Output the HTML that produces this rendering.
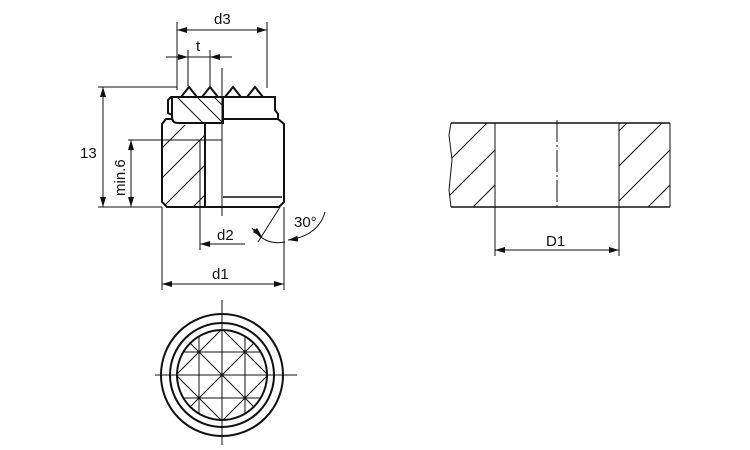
<!DOCTYPE html>
<html><head><style>
html,body{margin:0;padding:0;background:#fff;}
svg{display:block;}
text{font-family:"Liberation Sans",sans-serif;fill:#111;}
</style></head><body>
<svg width="750" height="450" viewBox="0 0 750 450" xmlns="http://www.w3.org/2000/svg">
<defs>
<marker id="a" markerWidth="10" markerHeight="6" refX="10" refY="3" orient="auto-start-reverse" markerUnits="userSpaceOnUse">
<path d="M0,0 L10,3 L0,6 Z" fill="#111"/></marker>
<clipPath id="cl"><path d="M168,125 L205,125 L205,207 L167,207 L162,202 L162,124 Z"/></clipPath>
<clipPath id="ct"><path d="M172,97 L223,97 L223,123 L178,123 Q172,123 172,117 Z"/></clipPath>
<clipPath id="cc"><circle cx="222" cy="375" r="45"/></clipPath>
<clipPath id="rl"><path d="M451,123 L495,123 L495,207 L451,207 L449,190 L452,160 L449,135 Z"/></clipPath>
<clipPath id="rr"><rect x="619" y="123" width="51" height="84"/></clipPath>
</defs>
<g fill="none" stroke="#111" stroke-width="1">
<!-- d3 -->
<line x1="177" y1="22" x2="177" y2="90"/><line x1="267" y1="22" x2="267" y2="88"/>
<line x1="177" y1="30" x2="267" y2="30" marker-start="url(#a)" marker-end="url(#a)"/>
<!-- t -->
<line x1="188" y1="50" x2="188" y2="86"/><line x1="210" y1="50" x2="210" y2="86"/>
<line x1="166" y1="57" x2="188" y2="57" marker-end="url(#a)"/>
<line x1="232" y1="57" x2="210" y2="57" marker-end="url(#a)"/>
<line x1="188" y1="57" x2="210" y2="57"/>
<!-- centerline -->
<line x1="222" y1="68" x2="222" y2="216"/>
<!-- 13 -->
<line x1="98" y1="87" x2="177" y2="87"/><line x1="98" y1="207" x2="162" y2="207"/>
<line x1="103" y1="87" x2="103" y2="207" marker-start="url(#a)" marker-end="url(#a)"/>
<!-- min.6 -->
<line x1="128" y1="140" x2="222" y2="140"/>
<line x1="131" y1="140" x2="131" y2="207" marker-start="url(#a)" marker-end="url(#a)"/>
<!-- d2 -->
<line x1="200" y1="207" x2="200" y2="250"/>
<line x1="245" y1="244" x2="200" y2="244" marker-end="url(#a)"/>
<!-- d1 -->
<line x1="162" y1="207" x2="162" y2="290"/><line x1="284" y1="207" x2="284" y2="290"/>
<line x1="162" y1="284" x2="284" y2="284" marker-start="url(#a)" marker-end="url(#a)"/>
<!-- 30 deg -->
<line x1="280" y1="207" x2="258" y2="242"/>
<path d="M252,228 Q265,246 285,242"/>
<line x1="254" y1="229" x2="262" y2="237" marker-end="url(#a)"/>
<path d="M325,212 Q318,236 288,240" marker-end="url(#a)"/>
</g>
<!-- hatching -->
<g stroke="#111" stroke-width="1" clip-path="url(#cl)">
<line x1="150" y1="160" x2="215" y2="95"/><line x1="150" y1="190" x2="215" y2="125"/>
<line x1="150" y1="220" x2="215" y2="155"/><line x1="165" y1="235" x2="215" y2="185"/>
</g>
<g stroke="#111" stroke-width="1" clip-path="url(#ct)">
<line x1="175" y1="95" x2="205" y2="125"/><line x1="195" y1="95" x2="225" y2="125"/><line x1="212" y1="95" x2="240" y2="123"/>
</g>
<g fill="none" stroke="#111" stroke-width="2">
<!-- teeth -->
<path d="M181,97 L189,87 L197,97 M202,97 L210,87 L218,97 M225,97 L233,87 L241,97 M247,97 L255,87 L263,97"/>
<!-- top flange -->
<path d="M172,115 L168,113 L168,100 L171,97 L275,97 L275,110 L278,114 L278,119"/>
<path d="M172,97 L223,97 L223,123 L178,123 Q172,123 172,117 Z"/>
<!-- body -->
<path d="M172,119 L166,119 L162,124 L162,202 L167,207 L279,207 L284,202 L284,124 L278,119 L223,119"/>
<line x1="205" y1="123" x2="205" y2="207"/>
<line x1="223" y1="197" x2="282" y2="197" stroke-width="1.5"/>
</g>
<line x1="200" y1="140" x2="200" y2="207" stroke="#111" stroke-width="1"/>
<!-- bottom view -->
<g fill="none" stroke="#111">
<line x1="155" y1="375" x2="297" y2="375" stroke-width="1"/>
<line x1="222" y1="300" x2="222" y2="445" stroke-width="1"/>
<circle cx="222" cy="375" r="61" stroke-width="2"/>
<circle cx="222" cy="375" r="52" stroke-width="2"/>
<circle cx="222" cy="375" r="45" stroke-width="2"/>
<g clip-path="url(#cc)" stroke-width="1">
<line x1="176" y1="352" x2="268" y2="352"/><line x1="176" y1="398" x2="268" y2="398"/>
<line x1="199" y1="328" x2="199" y2="422"/><line x1="245" y1="328" x2="245" y2="422"/>
<line x1="130" y1="375" x2="222" y2="283"/><line x1="153" y1="398" x2="245" y2="306"/><line x1="176" y1="421" x2="268" y2="329"/><line x1="199" y1="444" x2="291" y2="352"/><line x1="222" y1="467" x2="314" y2="375"/>
<line x1="130" y1="375" x2="222" y2="467"/><line x1="153" y1="352" x2="245" y2="444"/><line x1="176" y1="329" x2="268" y2="421"/><line x1="199" y1="306" x2="291" y2="398"/><line x1="222" y1="283" x2="314" y2="375"/>
</g>
</g>
<!-- right section -->
<g fill="none" stroke="#111" stroke-width="1">
<line x1="451" y1="123" x2="670" y2="123" stroke-width="1.5"/>
<line x1="451" y1="207" x2="670" y2="207" stroke-width="1.5"/>
<path d="M451,123 L449,135 L452,160 L449,190 L451,207"/>
<line x1="670" y1="123" x2="670" y2="207"/>
<line x1="495" y1="123" x2="495" y2="256"/><line x1="619" y1="123" x2="619" y2="256"/>
<line x1="557" y1="120" x2="557" y2="210" stroke-dasharray="22,3,2,3"/>
<line x1="495" y1="250" x2="619" y2="250" marker-start="url(#a)" marker-end="url(#a)"/>
<g clip-path="url(#rl)"><line x1="440" y1="170" x2="500" y2="110"/><line x1="440" y1="205" x2="500" y2="145"/><line x1="470" y1="210" x2="500" y2="180"/></g>
<g clip-path="url(#rr)"><line x1="615" y1="135" x2="640" y2="110"/><line x1="615" y1="170" x2="675" y2="110"/><line x1="615" y1="205" x2="675" y2="145"/><line x1="645" y1="210" x2="675" y2="180"/></g>
</g>
<text x="214" y="24" font-size="15">d3</text>
<text x="196" y="51" font-size="15">t</text>
<text x="80" y="158" font-size="15">13</text>
<text transform="translate(125,196) rotate(-90)" font-size="15">min.6</text>
<text x="217" y="240" font-size="15">d2</text>
<text x="294" y="227" font-size="15">30°</text>
<text x="212" y="279" font-size="15">d1</text>
<text x="546" y="246" font-size="15">D1</text>
</svg>
</body></html>
